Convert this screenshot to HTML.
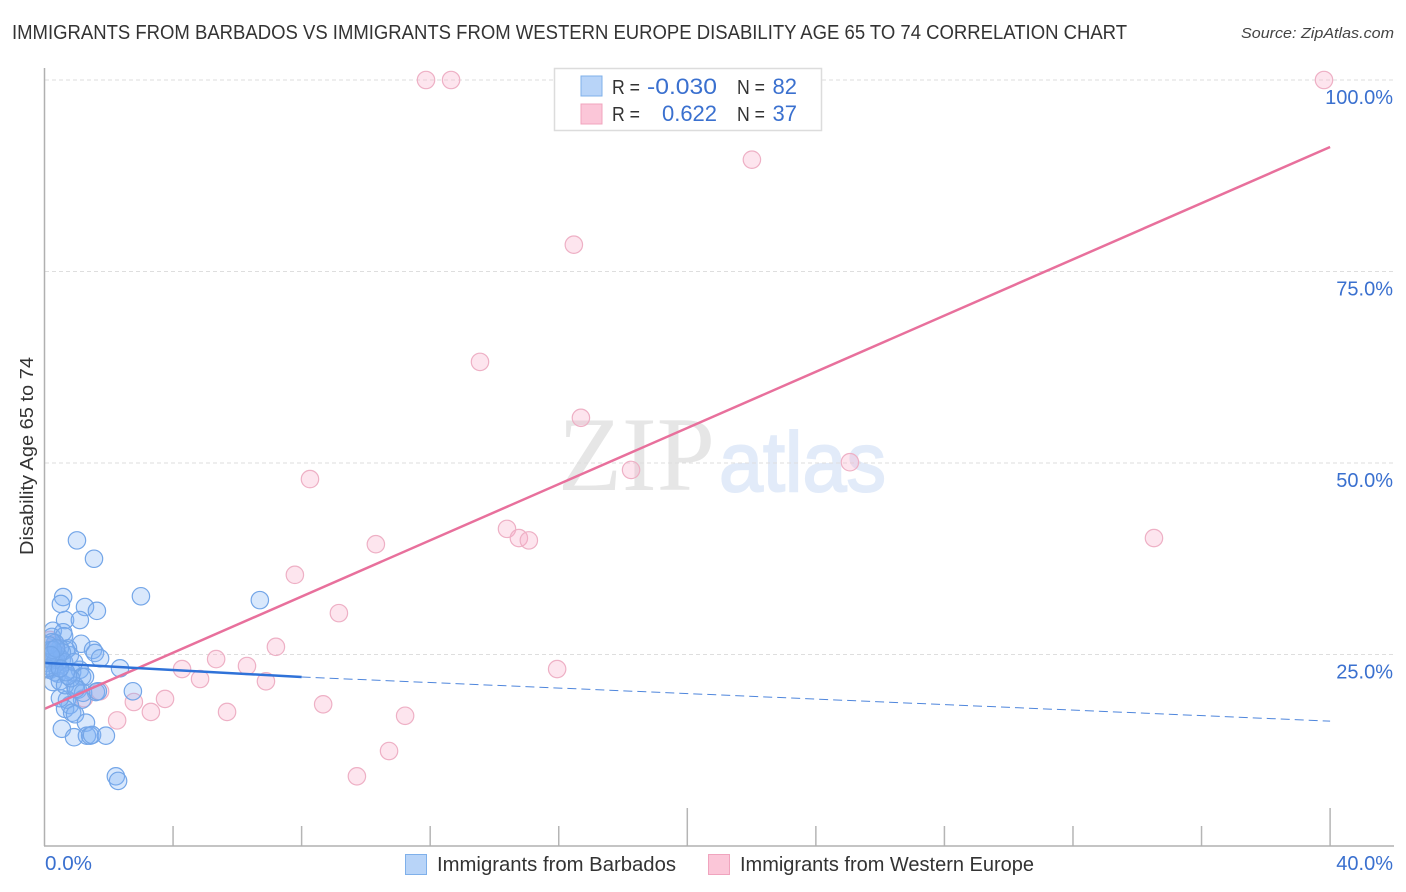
<!DOCTYPE html>
<html><head><meta charset="utf-8"><title>Correlation Chart</title>
<style>
html,body{margin:0;padding:0;background:#fff;width:1406px;height:892px;overflow:hidden}
svg{display:block;font-family:"Liberation Sans",sans-serif}
</style></head>
<body>
<svg id="chart" width="1406" height="892" viewBox="0 0 1406 892" xmlns="http://www.w3.org/2000/svg">
<defs><clipPath id="plot-clip"><rect x="45" y="60" width="1350" height="786"/></clipPath></defs>
<rect width="1406" height="892" fill="#fff"/>
<text x="12" y="39" font-size="20" fill="#333" textLength="1115" lengthAdjust="spacingAndGlyphs">IMMIGRANTS FROM BARBADOS VS IMMIGRANTS FROM WESTERN EUROPE DISABILITY AGE 65 TO 74 CORRELATION CHART</text>
<text x="1394" y="38" font-size="15" font-style="italic" fill="#444" text-anchor="end" textLength="153" lengthAdjust="spacingAndGlyphs">Source: ZipAtlas.com</text>
<text x="558" y="490" font-family="'Liberation Serif',serif" font-size="106" fill="#e6e6e6" textLength="157" lengthAdjust="spacingAndGlyphs">ZIP</text>
<text x="719" y="491" font-size="84" fill="#e2ebf9" stroke="#e2ebf9" stroke-width="2" textLength="167" lengthAdjust="spacingAndGlyphs">atlas</text>
<g id="grid"></g>
<g id="series-western" clip-path="url(#plot-clip)"></g>
<g id="series-barbados" clip-path="url(#plot-clip)"></g>
<g id="trends"></g>
<g id="axes"></g>
<text transform="translate(33,456) rotate(-90)" font-size="18" fill="#333" text-anchor="middle" textLength="198" lengthAdjust="spacingAndGlyphs">Disability Age 65 to 74</text>
<g>
<rect x="554.5" y="68.5" width="267" height="62" fill="#fff" stroke="#dcdcdc" stroke-width="1.5"/>
<rect x="581" y="76" width="21" height="20" fill="#b8d4f8" stroke="#7fb0ea"/>
<rect x="581" y="104" width="21" height="20" fill="#fbc6d8" stroke="#f0a4be"/>
<text x="612" y="94" font-size="20" fill="#333" textLength="28" lengthAdjust="spacingAndGlyphs">R =</text>
<text x="647" y="94" font-size="22" fill="#3a70cf" textLength="70" lengthAdjust="spacingAndGlyphs">-0.030</text>
<text x="737" y="94" font-size="20" fill="#333" textLength="28" lengthAdjust="spacingAndGlyphs">N =</text>
<text x="797" y="94" font-size="22" fill="#3a70cf" text-anchor="end">82</text>
<text x="612" y="121" font-size="20" fill="#333" textLength="28" lengthAdjust="spacingAndGlyphs">R =</text>
<text x="662" y="121" font-size="22" fill="#3a70cf" textLength="55" lengthAdjust="spacingAndGlyphs">0.622</text>
<text x="737" y="121" font-size="20" fill="#333" textLength="28" lengthAdjust="spacingAndGlyphs">N =</text>
<text x="797" y="121" font-size="22" fill="#3a70cf" text-anchor="end">37</text>
</g>
<g>
<rect x="405.5" y="854.5" width="21" height="20" fill="#b8d4f8" stroke="#7fb0ea"/>
<text x="437" y="871" font-size="20" fill="#333" textLength="239" lengthAdjust="spacingAndGlyphs">Immigrants from Barbados</text>
<rect x="708.5" y="854.5" width="21" height="20" fill="#fbc6d8" stroke="#f0a4be"/>
<text x="740" y="871" font-size="20" fill="#333" textLength="294" lengthAdjust="spacingAndGlyphs">Immigrants from Western Europe</text>
</g>
</svg>
<script>
const yTickValues = [25, 50, 75, 100];
const yTickLabels = ["25.0%", "50.0%", "75.0%", "100.0%"];
const xTickValues = [0, 4, 8, 12, 16, 20, 24, 28, 32, 36, 40];
const xEndLabels = ["0.0%", "40.0%"];
const barbadosX = [1.01,1.54,3.0,6.7,.58,.51,1.26,1.63,.64,1.1,.26,.58,.23,.61,1.14,1.51,1.57,1.73,2.35,2.75,.73,.79,.67,.48,.33,.23,.17,.11,.3,.42,.54,.17,.08,.3,.42,.23,.17,.08,.36,.61,.33,.42,.54,.86,1.1,1.17,1.26,.95,1.04,1.2,1.6,1.66,1.17,.7,.79,.64,.86,.95,1.29,.54,.92,1.32,1.42,1.48,1.91,2.22,2.29,.48,.26,.48,.64,.98,.82,.73,.92,.67,.14,.26,.08,.36,.48,.2];
const barbadosY = [39.9,37.5,32.6,32.1,32.5,31.6,31.2,30.7,29.5,29.5,28.1,27.9,27.3,27.4,26.4,25.6,25.2,24.5,23.2,20.2,25.8,24.9,25.6,25.8,26.5,26.6,25.6,24.9,24.9,24.9,24.3,24.3,23.9,23.8,23.5,23.2,23,24.5,24.3,24,22.7,22.5,25.3,22.7,23,22.1,22.1,20.9,20.4,20,20.1,20.2,19.1,19.1,18.4,17.9,17.4,17.2,16.1,15.3,14.2,14.4,14.4,14.5,14.4,9.1,8.5,19.3,21.4,21.5,21,20.5,21.9,22.2,24,22.7,26.2,25.6,23.2,25.8,23.2,24.9];
const westernX = [11.87,12.65,39.81,22.01,16.47,13.55,16.69,18.25,25.06,8.26,14.39,14.76,15.07,34.52,10.31,7.79,9.16,7.2,5.34,6.3,15.95,4.28,4.84,6.89,8.67,11.22,2.78,3.75,1.73,3.31,5.68,2.26,10.72,9.72,1.23,.33,.17];
const westernY = [100,100,100,89.6,78.5,63.2,55.9,49.1,50.1,47.9,41.4,40.2,39.9,40.2,39.4,35.4,30.4,26,24.4,23.5,23.1,23.1,21.8,21.5,18.5,17,18.8,19.2,20.2,17.5,17.5,16.4,12.4,9.1,19.3,26.2,26.9];
const westernTrendX = [0, 40];
const westernTrendY = [17.9, 91.25];
const barbadosSolidX = [0, 8];
const barbadosSolidY = [23.9, 22.06];
const barbadosDashX = [8, 40];
const barbadosDashY = [22.06, 16.3];

const NS = "http://www.w3.org/2000/svg";
const xScale = v => 44.5 + v * 32.14;
const yScale = v => 846 - v * 7.66;
function make(tag, parent, attrs, text) {
  const el = document.createElementNS(NS, tag);
  for (const k in attrs) el.setAttribute(k, attrs[k]);
  if (text !== undefined) el.textContent = text;
  parent.appendChild(el);
  return el;
}
const grid = document.getElementById("grid");
const axes = document.getElementById("axes");
yTickValues.forEach((v, i) => {
  const line = make("line", grid, {x1: 45, x2: 1394, y1: yScale(v), y2: yScale(v), stroke: "#dedede", "stroke-width": 1, "stroke-dasharray": "4 3"});
  
  
  const label = make("text", axes, {x: 1393, y: yScale(v) + 24, "font-size": 20, fill: "#3a70cf", "text-anchor": "end"}, yTickLabels[i]);
  
  
});
xTickValues.forEach((v, i) => {
  if (i === 0) return;
  const tall = v === 20 || v === 40;
  const tick = make("line", axes, {x1: xScale(v), x2: xScale(v), y1: tall ? 808 : 826, y2: 846, stroke: "#b5b5b5", "stroke-width": 1.5});
  
  
});
const yAxis = make("line", axes, {x1: 44.5, x2: 44.5, y1: 68, y2: 846, stroke: "#b0b0b0", "stroke-width": 1.5});


const xAxis = make("line", axes, {x1: 44, x2: 1394, y1: 846, y2: 846, stroke: "#b0b0b0", "stroke-width": 1.5});


const xStart = make("text", axes, {x: 45, y: 870, "font-size": 20, fill: "#3a70cf", textLength: 47, lengthAdjust: "spacingAndGlyphs"}, xEndLabels[0]);


const xEnd = make("text", axes, {x: 1393, y: 870, "font-size": 20, fill: "#3a70cf", "text-anchor": "end"}, xEndLabels[1]);



const western = document.getElementById("series-western");
westernX.forEach((v, i) => {
  const c = make("circle", western, {cx: xScale(v), cy: yScale(westernY[i]), r: 8.7, fill: "rgba(248,170,198,.3)", stroke: "#eeb0c5", "stroke-width": 1.2});
  
  
});
const barbados = document.getElementById("series-barbados");
barbadosX.forEach((v, i) => {
  const c = make("circle", barbados, {cx: xScale(v), cy: yScale(barbadosY[i]), r: 8.7, fill: "rgba(130,180,245,.3)", stroke: "#74a6e8", "stroke-width": 1.2});
  
  
});
const trends = document.getElementById("trends");
const wt = make("line", trends, {x1: xScale(westernTrendX[0]), y1: yScale(westernTrendY[0]), x2: xScale(westernTrendX[1]), y2: yScale(westernTrendY[1]), stroke: "#e8709c", "stroke-width": 2.5});


const bs = make("line", trends, {x1: xScale(barbadosSolidX[0]), y1: yScale(barbadosSolidY[0]), x2: xScale(barbadosSolidX[1]), y2: yScale(barbadosSolidY[1]), stroke: "#2f72d8", "stroke-width": 2.5});


const bd = make("line", trends, {x1: xScale(barbadosDashX[0]), y1: yScale(barbadosDashY[0]), x2: xScale(barbadosDashX[1]), y2: yScale(barbadosDashY[1]), stroke: "#4f86dc", "stroke-width": 1, "stroke-dasharray": "9 5"});


</script>
</body></html>
